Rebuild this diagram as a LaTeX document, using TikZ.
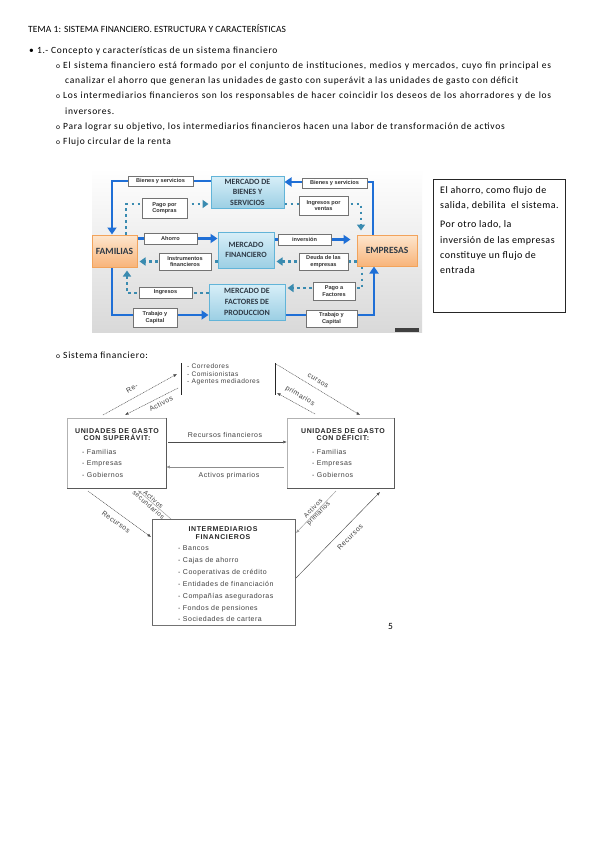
\documentclass[tikz,border=0pt]{standalone}
\usepackage{fontspec}
\setmainfont{Carlito}
\newfontfamily\bodyf[LetterSpace=7.5]{Carlito}
\newfontfamily\hdrf[LetterSpace=1]{Carlito}
\newfontfamily\arialsp[LetterSpace=7]{Liberation Sans}
\newfontfamily\arialtb[LetterSpace=9]{Liberation Sans}
\newfontfamily\arialb{Liberation Sans}
\newfontfamily\boxfont[LetterSpace=5]{Carlito}
\usetikzlibrary{arrows.meta}
\pgfdeclarelayer{bgimg}
\pgfdeclarelayer{bg}
\pgfsetlayers{bgimg,bg,main}
\definecolor{bblue}{HTML}{1F6FD6}
\definecolor{dteal}{HTML}{3A8BB0}
\definecolor{mktA}{HTML}{D8EFF8}
\definecolor{mktB}{HTML}{9CCFE4}
\definecolor{mktD}{HTML}{62B4D8}
\definecolor{orA}{HTML}{FDE6CE}
\definecolor{orB}{HTML}{F8B47A}
\definecolor{orD}{HTML}{F2A35B}
\definecolor{txtd}{HTML}{2E3A46}
\begin{document}
\begin{tikzpicture}[x=1pt,y=-1pt,
  body/.style={anchor=base west,inner sep=0pt,font=\bodyf\fontsize{9.5}{11}\selectfont},
  mkt/.style={draw=mktD,line width=1pt,top color=mktA,bottom color=mktB,
    font=\bfseries\fontsize{8}{10.5}\selectfont,text=txtd,align=center,inner sep=0pt},
  orng/.style={draw=orD,line width=1pt,top color=orA,bottom color=orB,
    font=\bfseries\fontsize{9.5}{11}\selectfont,text=txtd,inner sep=0pt},
  lbl/.style={draw=black!55,line width=0.7pt,fill=white,inner sep=0pt,align=center,
    font=\arialb\bfseries\fontsize{5.6}{6.6}\selectfont,text=black!80},
  blu/.style={draw=bblue,line width=2.3pt,-{Triangle[length=7pt,width=9pt]}},
  dotl/.style={draw=dteal,line width=2.6pt,dash pattern=on 2.6pt off 3.4pt,
    -{Triangle[length=6pt,width=8pt]}},
  lt/.style={inner sep=0pt,font=\arialsp\fontsize{7}{8}\selectfont,text=black!75},
  ltb/.style={inner sep=0pt,font=\arialtb\bfseries\fontsize{7}{7.5}\selectfont,text=black!85,align=center},
  la/.style={draw=black!70,line width=0.45pt,-{Latex[length=3.5pt,width=3pt]}},
  lad/.style={la,dash pattern=on 1pt off 0.7pt},
  wbox/.style={draw=black!30,line width=0.5pt,fill=white,inner sep=0pt}
]
\begin{pgfonlayer}{bgimg}
\fill[white] (0,0) rectangle (599,848);
\shade[top color=white,middle color=white,bottom color=black!15] (92,168) rectangle (422,332);
\end{pgfonlayer}
\useasboundingbox (0,0) rectangle (599,848);

% ---------------- body text
\node[body,font=\hdrf\fontsize{9.5}{11}\selectfont] (t0) at (28,33) {TEMA 1: SISTEMA FINANCIERO. ESTRUCTURA Y CARACTERÍSTICAS};
\node[body] (b0) at (29,54) {•};
\node[body] (t1) at (37,54) {1.- Concepto y características de un sistema financiero};
\node[body,font=\fontsize{7.5}{9}\selectfont] (o1) at (56,69) {o};
\node[body] (t2) at (63,69) {\makebox[488pt][s]{El sistema financiero está formado por el conjunto de instituciones, medios y mercados, cuyo fin principal es}};
\node[body] (t3) at (65,84) {canalizar el ahorro que generan las unidades de gasto con superávit a las unidades de gasto con déficit};
\node[body,font=\fontsize{7.5}{9}\selectfont] (o2) at (56,99) {o};
\node[body] (t4) at (63,99) {\makebox[488pt][s]{Los intermediarios financieros son los responsables de hacer coincidir los deseos de los ahorradores y de los}};
\node[body] (t5) at (65,114) {inversores.};
\node[body,font=\fontsize{7.5}{9}\selectfont] (o3) at (56,129) {o};
\node[body] (t6) at (63,129) {Para lograr su objetivo, los intermediarios financieros hacen una labor de transformación de activos};
\node[body,font=\fontsize{7.5}{9}\selectfont] (o4) at (56,144) {o};
\node[body] (t7) at (63,144) {Flujo circular de la renta};

% ---------------- upper figure
\fill[black!75] (395,328) rectangle (419,332);

\node[orng,minimum width=45pt,minimum height=32pt] (famil) at (114.5,251) {FAMILIAS};
\node[orng,minimum width=60pt,minimum height=31pt] (empr) at (387,250.5) {EMPRESAS};
\node[mkt,minimum width=73pt,minimum height=32pt] (mbs) at (247.5,192) {MERCADO DE\\BIENES Y\\SERVICIOS};
\node[mkt,minimum width=56pt,minimum height=36pt,font=\bfseries\fontsize{8}{10}\selectfont] (mfin) at (246,250) {MERCADO\\FINANCIERO};
\node[mkt,minimum width=76pt,minimum height=36pt,font=\bfseries\fontsize{8}{11}\selectfont] (mfac) at (247,302) {MERCADO DE\\FACTORES DE\\PRODUCCION};

\node[lbl,minimum width=65pt,minimum height=10pt] (bs1) at (160.5,181) {Bienes y servicios};
\node[lbl,minimum width=65pt,minimum height=10pt] (bs2) at (334.5,183) {Bienes y servicios};
\node[lbl,minimum width=45pt,minimum height=20pt] (pago) at (164.5,208) {Pago por\\Compras};
\node[lbl,minimum width=49pt,minimum height=19pt] (ingv) at (323.5,205.5) {Ingresos por\\ventas};
\node[lbl,minimum width=53pt,minimum height=11pt] (ahorro) at (170.5,238.5) {Ahorro};
\node[lbl,minimum width=53pt,minimum height=11pt] (inv) at (304.5,239.5) {inversión};
\node[lbl,minimum width=52pt,minimum height=17pt] (instr) at (185,261.5) {Instrumentos\\financieros};
\node[lbl,minimum width=49pt,minimum height=17pt] (deuda) at (323.5,261.5) {Deuda de las\\empresas};
\node[lbl,minimum width=53pt,minimum height=11pt] (ingr) at (165.5,292.5) {Ingresos};
\node[lbl,minimum width=42pt,minimum height=18pt] (pagof) at (334,291) {Pago a\\Factores};
\node[lbl,minimum width=44pt,minimum height=19pt] (tc1) at (155,317.5) {Trabajo y\\Capital};
\node[lbl,minimum width=51pt,minimum height=17pt] (tc2) at (331.5,318.5) {Trabajo y\\Capital};

\coordinate (k1) at (112,181);
\coordinate (k2) at (373,182);
\coordinate (k5) at (112,315);
\coordinate (k6) at (374,315);
\coordinate (k7) at (126,204);
\coordinate (k8) at (361,204);
\coordinate (k11) at (127,293);
\coordinate (k12) at (362,288);
\begin{pgfonlayer}{bg}
\draw[blu] (mbs.west |- k1) -- (k1) -- (k1 |- famil.north);
\draw[blu] (k2 |- empr.north) -- (k2) -- (mbs.east |- k2);
\draw[blu] (famil.east |- ahorro) -- (mfin.west |- ahorro);
\draw[blu,shorten >=6pt] (mfin.east |- inv) -- (empr.west |- inv);
\draw[blu] (k5 |- famil.south) -- (k5) -- (mfac.west |- k5);
\draw[blu] (mfac.east |- k6) -- (k6) -- (k6 |- empr.south);
\draw[dotl,shorten >=2pt] (k7 |- famil.north) -- (k7) -- (mbs.west |- k7);
\draw[dotl,shorten >=4pt] (mbs.east |- k8) -- (k8) -- (k8 |- empr.north);
\draw[dotl,shorten >=2pt] (mfin.west |- instr) -- (famil.east |- instr);
\draw[dotl,shorten >=2pt] (empr.west |- deuda) -- (mfin.east |- deuda);
\draw[dotl,shorten >=3pt] (mfac.west |- k11) -- (k11) -- (k11 |- famil.south);
\draw[dotl,shorten >=2pt] (k12 |- empr.south) -- (k12) -- (mfac.east |- k12);
\end{pgfonlayer}

% ---------------- side text box
\node[draw=black!85,line width=0.8pt,minimum width=132pt,minimum height=133pt,inner sep=0pt] (sidebox) at (499,245.5) {};
\node[anchor=north west,inner sep=0pt,align=left,font=\boxfont\fontsize{10}{15.3}\selectfont] (sidetxt) at (440,186)
 {El ahorro, como flujo de\\salida, debilita\ \ el sistema.\\[4pt]Por otro lado, la\\inversión de las empresas\\constituye un flujo de\\entrada};

% ---------------- lower diagram
\node[body,font=\fontsize{7.5}{9}\selectfont] (o5) at (56,358) {o};
\node[body] (t8) at (63,358) {Sistema financiero:};

\node[minimum width=93pt,minimum height=31pt,inner sep=0pt] (brk) at (228.5,379) {};
\draw[black!85,line width=1pt] (brk.north west) -- (brk.south west);
\draw[black!85,line width=0.8pt] (brk.north east) -- (brk.south east);
\node[lt,anchor=north west,align=left,font=\arialsp\fontsize{6.6}{7.3}\selectfont] (brktxt) at (187,364) {- Corredores\\- Comisionistas\\- Agentes mediadores};

\node[wbox,minimum width=99pt,minimum height=70pt] (sup) at (116.5,453) {};
\draw[black!65,line width=0.9pt] (sup.north east) -- (sup.south east) -- (sup.south west);
\node[ltb] (suptit) at (117,434.5) {UNIDADES DE GASTO\\CON SUPERÁVIT:};
\node[lt,anchor=west] (sup1) at (82,452) {- Familias};
\node[lt,anchor=west] (sup2) at (82,463.5) {- Empresas};
\node[lt,anchor=west] (sup3) at (82,475) {- Gobiernos};

\node[wbox,minimum width=107pt,minimum height=70pt] (def) at (340.5,453) {};
\draw[black!65,line width=0.9pt] (def.north east) -- (def.south east) -- (def.south west);
\node[ltb] (deftit) at (343,434.5) {UNIDADES DE GASTO\\CON DÉFICIT:};
\node[lt,anchor=west] (def1) at (312,452) {- Familias};
\node[lt,anchor=west] (def2) at (312,463.5) {- Empresas};
\node[lt,anchor=west] (def3) at (312,475) {- Gobiernos};

\node[wbox,draw=black!60,minimum width=143pt,minimum height=106pt] (intm) at (223.5,572) {};
\node[ltb] (intmtit) at (223,533) {INTERMEDIARIOS\\FINANCIEROS};
\node[lt,anchor=north west,align=left,font=\arialsp\fontsize{7}{11.9}\selectfont] (intmtxt) at (178,545.5) {- Bancos\\- Cajas de ahorro\\- Cooperativas de crédito\\- Entidades de financiación\\- Compañías aseguradoras\\- Fondos de pensiones\\- Sociedades de cartera};
\draw[black!55,line width=1.3pt] (intm.south west) -- (intm.south east);

\node[body] (pnum) at (388,629) {5};

% horizontal arrows
\coordinate (h1) at (168,442);
\coordinate (h2) at (284,467);
\draw[la,shorten <=2pt] (sup.east |- h1) -- (def.west |- h1);
\node[lt] (lrf) at (225,434.5) {Recursos financieros};
\draw[la,draw=black!45,shorten <=3pt] (def.west |- h2) -- (sup.east |- h2);
\node[lt] (lap) at (229,475.5) {Activos primarios};

% upper diagonals
\coordinate (d1a) at (103,415);
\coordinate (d1b) at (177,374);
\draw[lad] (d1a) -- (d1b);
\node[lt,rotate=29] (lre) at (132,388.5) {Re-};
\coordinate (d2a) at (178,388);
\coordinate (d2b) at (125,415);
\draw[lad] (d2a) -- (d2b);
\node[lt,rotate=27] (lact) at (161,403.5) {Activos};
\coordinate (d3a) at (276,364);
\coordinate (d3b) at (360,415);
\draw[lad] (d3a) -- (d3b);
\node[lt,rotate=-31] (lcur) at (318,381) {cursos};
\coordinate (d4a) at (315,414);
\coordinate (d4b) at (277,393);
\draw[lad] (d4a) -- (d4b);
\node[lt,rotate=-31] (lpri) at (300,396) {primarios};

% lower diagonals
\coordinate (e1a) at (88,491);
\coordinate (e1b) at (151,537);
\draw[lad] (e1a) -- (e1b);
\node[lt,rotate=-36] (lrec1) at (116,522) {Recursos};
\coordinate (e2a) at (171,519);
\coordinate (e2b) at (138,490.5);
\draw[la,draw=black!40] (e2a) -- (e2b);
\node[lt,rotate=-41,align=center,font=\arialsp\fontsize{6.5}{7.2}\selectfont] (lasec) at (151,502) {Activos\\secundarios};
\coordinate (e3a) at (336,491);
\coordinate (e3b) at (296,533);
\draw[la,draw=black!40] (e3a) -- (e3b);
\node[lt,rotate=46,align=center,font=\arialsp\fontsize{6.5}{7.2}\selectfont] (lapri) at (316,511) {Activos\\primarios};
\coordinate (e4a) at (296,578);
\coordinate (e4b) at (380,492);
\draw[la] (e4a) -- (e4b);
\node[lt,rotate=45] (lrec2) at (350,537) {Recursos};
\end{tikzpicture}
\end{document}
